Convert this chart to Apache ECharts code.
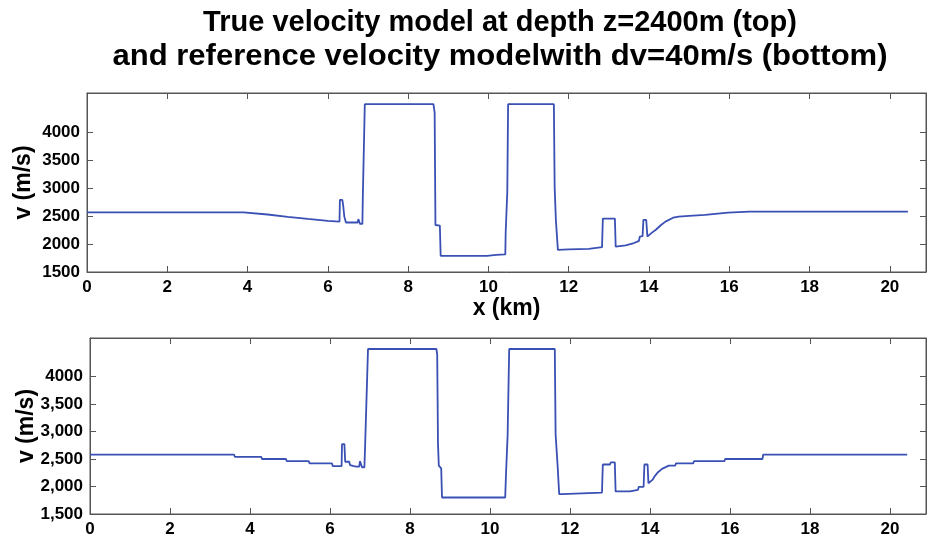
<!DOCTYPE html>
<html>
<head>
<meta charset="utf-8" />
<title>Velocity model</title>
<style>
  html, body { margin: 0; padding: 0; background: #fff; }
  #chart { width: 929px; height: 538px; }
</style>
</head>
<body>
<div id="chart"></div>
<script src="https://cdn.jsdelivr.net/npm/echarts@6/dist/echarts.min.js"></script>
<script>
// true velocity model at z=2400m, [x (km), v (m/s)]
const trueModel = [
  [0, 2565], [3.9, 2565], [4.5, 2528], [5.0, 2487], [5.5, 2450], [6.0, 2415], [6.29, 2400],
  [6.30, 2790], [6.36, 2790], [6.38, 2700], [6.41, 2490], [6.45, 2385], [6.74, 2385],
  [6.76, 2445], [6.79, 2445], [6.80, 2360], [6.86, 2360], [6.87, 2800], [6.91, 2810],
  [6.92, 4500], [8.63, 4500], [8.66, 4350], [8.68, 2340], [8.79, 2330], [8.81, 1790],
  [9.96, 1790], [10.2, 1805], [10.42, 1815], [10.43, 2220], [10.46, 2240], [10.47, 2940],
  [10.49, 4500], [11.63, 4500], [11.65, 3000], [11.68, 2430], [11.72, 2430], [11.73, 1895],
  [12.0, 1905], [12.5, 1915], [12.83, 1945], [12.85, 2455], [13.15, 2455], [13.17, 1953],
  [13.42, 1975], [13.6, 2010], [13.75, 2055], [13.77, 2133], [13.84, 2140], [13.86, 2432],
  [13.93, 2432], [13.96, 2133], [14.05, 2190], [14.17, 2255], [14.3, 2340], [14.41, 2400],
  [14.6, 2470], [14.74, 2490], [15.0, 2505], [15.4, 2522], [15.97, 2560], [16.5, 2580],
  [20.45, 2580]
];

// reference velocity model with dv=40m/s
const refModel = [
  [0, 2580], [3.60, 2580], [3.62, 2540], [4.28, 2540], [4.30, 2500], [4.90, 2500],
  [4.92, 2460], [5.47, 2460], [5.49, 2420], [6.05, 2420], [6.07, 2370], [6.29, 2370],
  [6.30, 2770], [6.36, 2770], [6.38, 2450], [6.48, 2450], [6.50, 2390], [6.60, 2370],
  [6.66, 2360], [6.73, 2360], [6.75, 2460], [6.78, 2460], [6.80, 2350], [6.86, 2350],
  [6.88, 2790], [6.93, 2790], [6.95, 4500], [8.66, 4500], [8.68, 4400], [8.70, 2770],
  [8.72, 2380], [8.78, 2330], [8.80, 1800], [10.38, 1800], [10.40, 2220], [10.42, 2220],
  [10.44, 2920], [10.46, 2920], [10.48, 4500], [11.62, 4500], [11.64, 2950], [11.67, 2950],
  [11.69, 2380], [11.71, 2380], [11.73, 1860], [11.79, 1860], [11.81, 1890], [12.80, 1890],
  [12.82, 2400], [13.0, 2400], [13.02, 2440], [13.12, 2440], [13.14, 1910], [13.50, 1910],
  [13.52, 1940], [13.70, 1940], [13.72, 1995], [13.84, 1995], [13.86, 2400], [13.94, 2400],
  [13.96, 2060], [14.0, 2060], [14.06, 2120], [14.12, 2190], [14.2, 2260], [14.3, 2320],
  [14.47, 2380], [14.63, 2380], [14.65, 2420], [15.08, 2420], [15.10, 2460], [15.86, 2460],
  [15.88, 2500], [16.81, 2500], [16.83, 2580], [20.43, 2580]
];

const yTicks = [1500, 2000, 2500, 3000, 3500, 4000];
const topTickLabels = ['1500', '2000', '2500', '3000', '3500', '4000'];
const bottomTickLabels = ['1,500', '2,000', '2,500', '3,000', '3,500', '4000'];
const titleLines = [
  'True velocity model at depth z=2400m (top)',
  'and reference velocity modelwith dv=40m/s (bottom)'
];

const chart = echarts.init(document.getElementById('chart'));

const font = { fontFamily: 'Liberation Sans', fontWeight: 'bold', color: '#000' };
const boxColor = '#555';
const lineColor = '#3a50b4';

function xAxes(gridIndex, withName) {
  const base = {
    gridIndex: gridIndex, type: 'value', min: 0, max: 20.9, interval: 2,
    splitLine: { show: false },
    axisLine: { show: true, onZero: false, lineStyle: { color: boxColor } },
    axisTick: { inside: true, length: 6, lineStyle: { color: boxColor } }
  };
  return [
    Object.assign({}, base, {
      position: 'bottom',
      axisLabel: Object.assign({ fontSize: 17, margin: 7,
        formatter: v => (v % 2 === 0 ? String(v) : '') }, font),
      name: withName ? 'x (km)' : '',
      nameLocation: 'middle', nameGap: 25,
      nameTextStyle: Object.assign({ fontSize: 23 }, font)
    }),
    Object.assign({}, base, { position: 'top', axisLabel: { show: false } })
  ];
}

function yAxes(gridIndex, labels) {
  const base = {
    gridIndex: gridIndex, type: 'value', min: 1500, max: 4700,
    splitLine: { show: false },
    axisLine: { show: true, onZero: false, lineStyle: { color: boxColor } },
    axisTick: { inside: true, length: 6, customValues: yTicks, lineStyle: { color: boxColor } }
  };
  return [
    Object.assign({}, base, {
      position: 'left',
      axisLabel: Object.assign({ fontSize: 17, margin: 7, customValues: yTicks,
        formatter: v => labels[yTicks.indexOf(v)] }, font),
      name: 'v (m/s)', nameLocation: 'middle', nameRotate: 90, nameGap: 52,
      nameMoveOverlap: false,
      nameTextStyle: Object.assign({ fontSize: 23 }, font)
    }),
    Object.assign({}, base, { position: 'right', axisLabel: { show: false } })
  ];
}

const option = {
  animation: false,
  backgroundColor: '#fff',
  graphic: titleLines.map((t, i) => ({
    type: 'text', x: 500, y: 23 + i * 34,
    scaleX: i === 0 ? 1 : 1.07, originX: 0,
    style: { text: t, fill: '#000', font: 'bold 29px "Liberation Sans"',
      textAlign: 'center', textVerticalAlign: 'middle' }
  })),
  grid: [
    { left: 87, top: 93, width: 845, height: 179, show: true, borderColor: boxColor, borderWidth: 1 },
    { left: 90, top: 338, width: 846, height: 177, show: true, borderColor: boxColor, borderWidth: 1 }
  ],
  xAxis: xAxes(0, true).concat(xAxes(1, false)),
  yAxis: yAxes(0, topTickLabels).concat(yAxes(1, bottomTickLabels)),
  series: [
    { type: 'line', xAxisIndex: 0, yAxisIndex: 0, data: trueModel, showSymbol: false,
      lineStyle: { color: lineColor, width: 1.8 } },
    { type: 'line', xAxisIndex: 2, yAxisIndex: 2, data: refModel, showSymbol: false,
      lineStyle: { color: lineColor, width: 1.8 } }
  ]
};

chart.setOption(option);
</script>
</body>
</html>
